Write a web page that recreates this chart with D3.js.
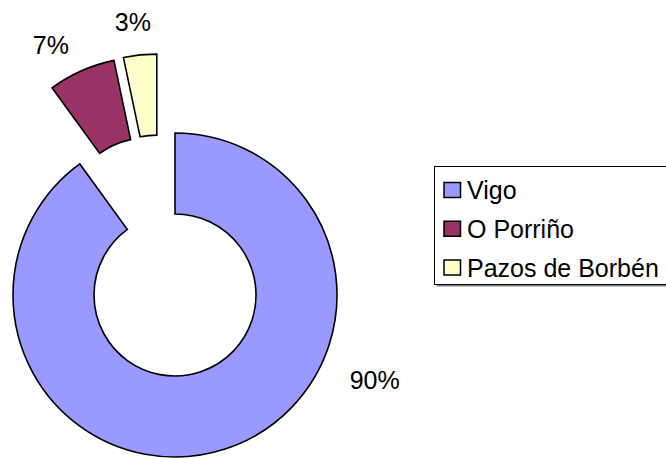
<!DOCTYPE html>
<html>
<head>
<meta charset="utf-8">
<script src="https://cdn.jsdelivr.net/npm/d3@7"></script>
<style>
  html, body { margin: 0; padding: 0; background: #fff; }
  svg { display: block; }
  text { font-family: "Liberation Sans", Arial, sans-serif; }
</style>
</head>
<body>
<svg id="chart" width="666" height="458"></svg>
<script>
// ---- data ----
const categories = ["Vigo", "O Porriño", "Pazos de Borbén"];
const values = [90, 6.7, 3.3];
const colors = ["#9999FF", "#993366", "#FFFFCC"];
// explosion (distance in px, direction in degrees clockwise from 12 o'clock)
const explodeDist = [0, 81, 81];
const explodeDeg = [0, 340, 347];
// label placement (angle in degrees, radius in px from the slice's centre)
const labelDeg = [113, 331, 353];
const labelRadius = [217, 199, 196];

const svg = d3.select("#chart");
const cx = 175, cy = 295, outerR = 162, innerR = 81;
const rad = d => d * Math.PI / 180;

const total = d3.sum(values);
const pie = d3.pie().sort(null).value(d => d).startAngle(0).endAngle(2 * Math.PI);
const arc = d3.arc().innerRadius(innerR).outerRadius(outerR);
const arcs = pie(values);

const g = svg.append("g").attr("transform", `translate(${cx},${cy})`);

const slices = g.selectAll("g.slice").data(arcs).enter().append("g")
  .attr("class", "slice")
  .attr("transform", (d, i) => {
    const a = rad(explodeDeg[i]);
    return `translate(${explodeDist[i] * Math.sin(a)},${-explodeDist[i] * Math.cos(a)})`;
  });

slices.append("path")
  .attr("d", arc)
  .attr("fill", (d, i) => colors[i])
  .attr("stroke", "#000")
  .attr("stroke-width", 1.6)
  .attr("stroke-linejoin", "miter");

slices.append("text")
  .attr("x", (d, i) => labelRadius[i] * Math.sin(rad(labelDeg[i])))
  .attr("y", (d, i) => -labelRadius[i] * Math.cos(rad(labelDeg[i])))
  .attr("dy", "0.36em")
  .attr("text-anchor", "middle")
  .attr("font-size", 25)
  .attr("fill", "#000")
  .text(d => Math.round(d.value / total * 100) + "%");

// ---- legend ----
const lx = 434.5, ly = 166.5, lh = 118;
const legend = svg.append("g");
legend.append("rect")
  .attr("x", lx + 2).attr("y", ly + 2).attr("width", 300).attr("height", lh)
  .attr("fill", "#808080");
legend.append("rect")
  .attr("x", lx).attr("y", ly).attr("width", 300).attr("height", lh)
  .attr("fill", "#fff").attr("stroke", "#000").attr("stroke-width", 1);

const rowY = d3.scalePoint().domain(categories).range([190, 267.5]);
const items = legend.selectAll("g.item").data(categories).enter().append("g")
  .attr("class", "item")
  .attr("transform", d => `translate(0,${rowY(d)})`);
items.append("rect")
  .attr("x", 444).attr("y", -7.5).attr("width", 16.5).attr("height", 15)
  .attr("fill", (d, i) => colors[i])
  .attr("stroke", "#000").attr("stroke-width", 1.5);
items.append("text")
  .attr("x", 467).attr("y", 9)
  .attr("font-size", 25)
  .attr("fill", "#000")
  .text(d => d);
</script>
</body>
</html>
